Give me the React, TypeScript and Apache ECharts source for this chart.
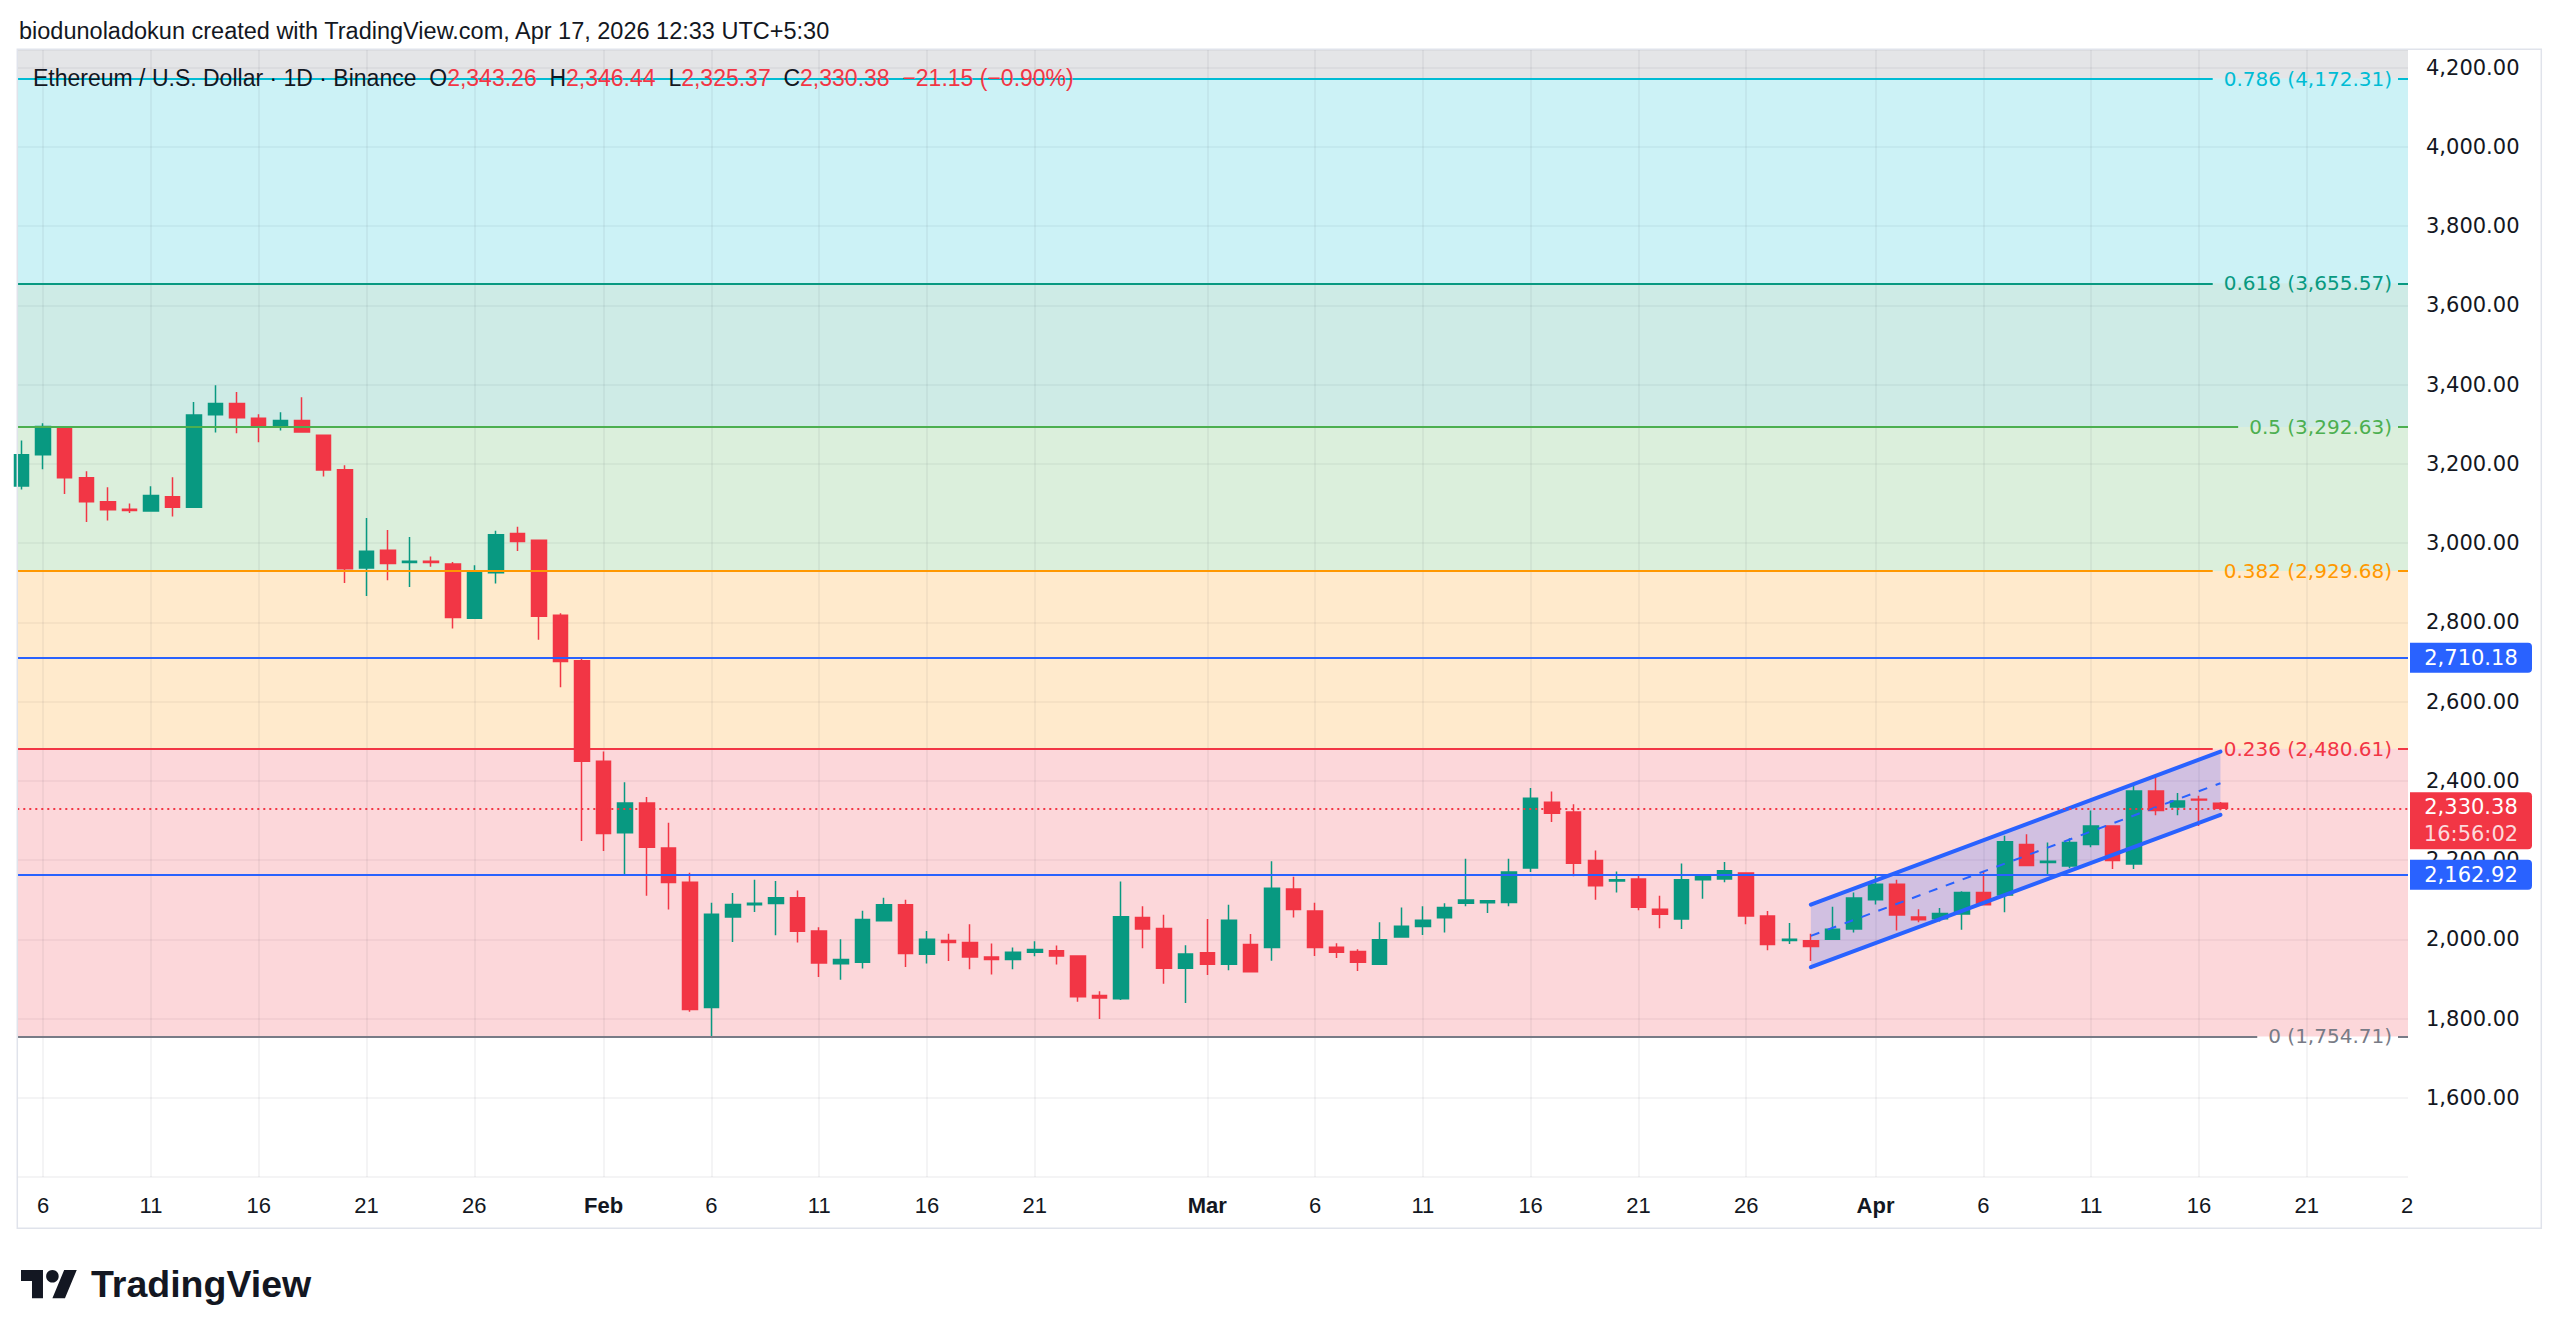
import React, { useEffect, useRef } from 'react';
import * as echarts from 'echarts';

// ---------- calendar (x axis categories) ----------
const monthSpans: [string, number, number][] = [
  ['Jan', 5, 31],
  ['Feb', 1, 28],
  ['Mar', 1, 31],
  ['Apr', 1, 26],
];
const axisDates: string[] = monthSpans.flatMap(([m, a, b]) =>
  Array.from({ length: b - a + 1 }, (_, i) => `${m} ${a + i}`)
);

// ---------- daily ETH/USD candles, Jan 5 .. Apr 17 ----------
const opens = [
  3144, 3223, 3293, 3165, 3104, 3085, 3081, 3117, 3090, 3324, 3352, 3315, 3294, 3309, 3272, 3185, 2937, 2982, 2951, 2954, 2947, 2810, 2925, 3024, 3007, 2818, 2703,
  2449, 2269, 2344, 2230, 2144, 1828, 2056, 2087, 2090, 2105, 2021, 1938, 1942, 2047, 2087, 1962, 1997, 1992, 1955, 1949, 1967, 1971, 1958, 1858, 1850, 2055, 2027, 1927,
  1966, 1937, 1987, 1979, 2127, 2071, 1980, 1969, 1937, 2006, 2032, 2054, 2091, 2092, 2093, 2180, 2346, 2321, 2199, 2147, 2152, 2076, 2051, 2150, 2152, 2167, 2059, 1997, 1996, 2000, 2026,
  2100, 2139, 2056, 2052, 2064, 2118, 2112, 2239, 2194, 2185, 2239, 2286, 2190, 2374, 2334, 2353.5, 2343.26,
];
const highs = [
  3259, 3302, 3294, 3181, 3141, 3100, 3143, 3166, 3356, 3398, 3381, 3325, 3330, 3368, 3273, 3196, 3063, 3033, 3015, 2966, 2952, 2944, 3031, 3041, 3008, 2823, 2710,
  2474, 2396, 2359, 2294, 2168, 2092, 2117, 2150, 2147, 2123, 2030, 2000, 2072, 2105, 2100, 2021, 2014, 2038, 1989, 1979, 1995, 1984, 1958, 1869, 2146, 2083, 2062, 1985,
  2051, 2087, 2013, 2197, 2158, 2092, 1990, 1975, 2043, 2080, 2083, 2091, 2203, 2099, 2203, 2382, 2373, 2341, 2224, 2171, 2162, 2110, 2191, 2163, 2195, 2167, 2071, 2041, 2014, 2082, 2118,
  2162, 2150, 2076, 2079, 2121, 2171, 2261, 2265, 2244, 2255, 2325, 2286, 2393, 2413, 2369, 2362, 2346.44,
];
const lows = [
  3135, 3186, 3124, 3053, 3057, 3076, 3080, 3067, 3089, 3279, 3277, 3254, 3284, 3280, 3168, 2899, 2866, 2906, 2889, 2940, 2784, 2809, 2898, 2980, 2756, 2636, 2248,
  2223, 2160, 2110, 2075, 1817, 1754.71, 1993, 2069, 2010, 1992, 1905, 1898, 1926, 2045, 1930, 1939, 1945, 1924, 1911, 1924, 1957, 1936, 1842, 1799, 1847, 1977, 1888, 1839,
  1910, 1922, 1916, 1946, 2055, 1958, 1953, 1920, 1936, 2005, 2011, 2017, 2083, 2066, 2083, 2170, 2296, 2159, 2100, 2118, 2073, 2028, 2026, 2102, 2144, 2038, 1972, 1988, 1945, 1998, 2017,
  2088, 2022, 2043, 2045, 2024, 2087, 2068, 2184, 2165, 2179, 2232, 2177, 2177, 2313, 2313, 2286, 2325.37,
];
const closes = [
  3223, 3294, 3165, 3104, 3084, 3082, 3120, 3090, 3323, 3352, 3316, 3294, 3309, 3280, 3184, 2935, 2979, 2948, 2954, 2951, 2812, 2929, 3021, 3004, 2815, 2701, 2449,
  2267, 2344, 2232, 2143, 1823, 2063, 2088, 2091, 2105, 2020, 1940, 1949, 2050, 2087, 1964, 2000, 1992, 1955, 1949, 1967, 1974, 1958, 1855, 1852, 2057, 2026, 1927, 1963,
  1937, 2048, 1918, 2129, 2075, 1979, 1967, 1942, 1999, 2033, 2048, 2080, 2099, 2097, 2170, 2356, 2318, 2192, 2135, 2150, 2081, 2063, 2150, 2160, 2173, 2059, 1987, 2000, 1982, 2025, 2104,
  2139, 2061, 2049, 2065, 2118, 2087, 2246, 2186, 2197, 2244, 2286, 2199, 2374, 2325, 2349, 2351.53, 2330.38,
];

// ---------- x tick labels ----------
const tickDates = ['Jan 6', 'Jan 11', 'Jan 16', 'Jan 21', 'Jan 26', 'Feb 1', 'Feb 6', 'Feb 11', 'Feb 16', 'Feb 21', 'Mar 1', 'Mar 6', 'Mar 11', 'Mar 16', 'Mar 21', 'Mar 26', 'Apr 1', 'Apr 6', 'Apr 11', 'Apr 16', 'Apr 21'];
const tickTexts = ['6', '11', '16', '21', '26', 'Feb', '6', '11', '16', '21', 'Mar', '6', '11', '16', '21', '26', 'Apr', '6', '11', '16', '21'];

// ---------- drawings ----------
const fibLevels = [0, 0.236, 0.382, 0.5, 0.618, 0.786];
const fibPrices = [1754.71, 2480.61, 2929.68, 3292.63, 3655.57, 4172.31];
const fibColors = ['#787b86', '#f23645', '#ff9800', '#4caf50', '#089981', '#00bcd4'];
const fibTopColor = '#787b86'; // band 0.786 .. 1
const keyLevels = [2710.18, 2162.92];
const channelDates = ['Mar 29', 'Apr 17'];
const channelUpper = [2087.3, 2473.6];
const channelLower = [1929.5, 2314.0];
const countdown = '16:56:02';

// ---------- layout ----------
const W = 2560;
const H = 1340;
const GRID = { left: 17.3, right: 152, top: 49.7, bottom: 163 };
const X_MIN = -0.2;
const X_MAX = 110.7;
const Y_MIN = 1400;
const Y_MAX = 4245;
const PLOT_W = W - GRID.left - GRID.right;
const LABEL_RIGHT = 2392;
const UP = '#089981';
const DOWN = '#f23645';
const TEXT = '#131722';
const SANS = '"Liberation Sans", Arial, sans-serif';
const WIDE = '"DejaVu Sans", sans-serif';

echarts.graphic.registerShape(
  'tvlogo',
  echarts.graphic.extendPath('M14 22H7V11H0V4h14v18zM28 22h-8l7.5-18h8L28 22z', {})
);

const fmt2 = (v: number) => v.toLocaleString('en-US', { minimumFractionDigits: 2, maximumFractionDigits: 2 });
const pxToX = (px: number) => X_MIN + ((px - GRID.left) * (X_MAX - X_MIN)) / PLOT_W;
const rgba = (hex: string, a: number) => {
  const n = parseInt(hex.slice(1), 16);
  return `rgba(${(n >> 16) & 255},${(n >> 8) & 255},${n & 255},${a})`;
};
const measure = (text: string, font: string) => {
  const ctx = document.createElement('canvas').getContext('2d');
  if (!ctx) return text.length * 10;
  ctx.font = font;
  return ctx.measureText(text).width;
};
const tagPath = (w: number, h: number) =>
  `path://M0,0 H${w - 4} Q${w},0 ${w},4 V${h - 4} Q${w},${h} ${w - 4},${h} H0 Z`;

function buildOption() {
  const n = closes.length;
  const last = closes[n - 1];
  const change = last - closes[n - 2];
  const pct = (change / closes[n - 2]) * 100;
  const minus = '\u2212';
  const chgText = `${change < 0 ? minus : '+'}${fmt2(Math.abs(change))} (${pct < 0 ? minus : '+'}${fmt2(Math.abs(pct))}%)`;

  const candles = opens.map((o, i) => [i, o, closes[i], lows[i], highs[i]]);

  const bandTops = [...fibPrices.slice(1), Y_MAX];
  const bandColors = [...fibColors.slice(1), fibTopColor];
  const bands = fibPrices.map((v, i) => [
    { yAxis: v, itemStyle: { color: rgba(bandColors[i], 0.2) } },
    { yAxis: bandTops[i] },
  ]);

  const gridLines = tickDates.map((d, k) => ({
    xAxis: axisDates.indexOf(d),
    label: {
      formatter: tickTexts[k],
      fontWeight: isNaN(Number(tickTexts[k])) ? 'bold' : 'normal',
    },
  }));

  const fibFont = `20px ${WIDE}`;
  const fibLines: any[] = [];
  fibPrices.forEach((v, i) => {
    const text = `${fibLevels[i]} (${fmt2(v)})`;
    const w = measure(text, fibFont);
    const ls = { color: fibColors[i], width: 2, type: 'solid' };
    fibLines.push([
      { coord: [X_MIN, v], lineStyle: ls },
      { coord: [pxToX(LABEL_RIGHT - w - 11), v] },
    ]);
    fibLines.push([
      {
        coord: [pxToX(LABEL_RIGHT + 6), v],
        lineStyle: ls,
        label: {
          show: true,
          position: 'start',
          distance: 6,
          formatter: text,
          color: fibColors[i],
          fontSize: 20,
          fontFamily: WIDE,
        },
      },
      { coord: [X_MAX, v] },
    ]);
  });

  const levelLines = keyLevels.map((v) => ({
    yAxis: v,
    lineStyle: { color: '#2962ff', width: 2, type: 'solid' },
  }));
  const priceLine = { yAxis: last, lineStyle: { color: DOWN, width: 2, type: [2, 4] } };

  const tagLabel = { show: true, position: 'inside', color: '#ffffff', fontSize: 21, fontFamily: WIDE };
  const tags = [
    ...keyLevels.map((v) => ({
      coord: [X_MAX, v],
      symbol: tagPath(122, 30),
      symbolSize: [122, 30],
      symbolOffset: [63, 0],
      itemStyle: { color: '#2962ff' },
      label: { ...tagLabel, formatter: fmt2(v) },
    })),
    {
      coord: [X_MAX, last],
      symbol: tagPath(122, 57),
      symbolSize: [122, 57],
      symbolOffset: [63, 12.5],
      itemStyle: { color: DOWN },
      label: {
        ...tagLabel,
        formatter: `{p|${fmt2(last)}}\n{t|${countdown}}`,
        rich: {
          p: { color: '#ffffff', fontSize: 21, fontFamily: WIDE, lineHeight: 27 },
          t: { color: 'rgba(255,255,255,0.82)', fontSize: 21, fontFamily: WIDE, lineHeight: 27 },
        },
      },
    },
  ];

  const chIdx = channelDates.map((d) => axisDates.indexOf(d));
  const channelData = [[chIdx[0], channelUpper[0], channelLower[0], chIdx[1], channelUpper[1], channelLower[1]]];

  const channelGeom = (api: any) => {
    const u0 = api.coord([api.value(0), api.value(1)]);
    const l0 = api.coord([api.value(0), api.value(2)]);
    const u1 = api.coord([api.value(3), api.value(4)]);
    const l1 = api.coord([api.value(3), api.value(5)]);
    const m0 = [(u0[0] + l0[0]) / 2, (u0[1] + l0[1]) / 2];
    const m1 = [(u1[0] + l1[0]) / 2, (u1[1] + l1[1]) / 2];
    return { u0, l0, u1, l1, m0, m1 };
  };

  const ohlc = `{k|O}{v|${fmt2(opens[n - 1])}}  {k|H}{v|${fmt2(highs[n - 1])}}  {k|L}{v|${fmt2(lows[n - 1])}}  {k|C}{v|${fmt2(last)}}  {v|${chgText}}`;

  return {
    animation: false,
    backgroundColor: '#ffffff',
    title: [
      {
        text: 'biodunoladokun created with TradingView.com, Apr 17, 2026 12:33 UTC+5:30',
        left: 19,
        top: 17,
        padding: 0,
        textStyle: { color: TEXT, fontSize: 23.5, fontWeight: 'normal', fontFamily: SANS, lineHeight: 28 },
      },
      {
        text: `{n|Ethereum / U.S. Dollar · 1D · Binance}  ${ohlc}`,
        left: 33,
        top: 64,
        padding: 0,
        z: 10,
        textStyle: {
          color: TEXT,
          fontSize: 23,
          fontWeight: 'normal',
          fontFamily: SANS,
          lineHeight: 28,
          rich: {
            n: { color: TEXT, fontSize: 23, fontFamily: SANS },
            k: { color: TEXT, fontSize: 23, fontFamily: SANS },
            v: { color: DOWN, fontSize: 23, fontFamily: SANS },
          },
        },
      },
    ],
    grid: { left: GRID.left, right: GRID.right, top: GRID.top, bottom: GRID.bottom, containLabel: false },
    xAxis: {
      type: 'value',
      min: X_MIN,
      max: X_MAX,
      axisLabel: { show: false },
      axisLine: { show: false },
      axisTick: { show: false },
      splitLine: { show: false },
    },
    yAxis: {
      type: 'value',
      position: 'right',
      min: Y_MIN,
      max: Y_MAX,
      interval: 200,
      scale: true,
      axisLine: { show: false },
      axisTick: { show: false },
      splitLine: { show: true, lineStyle: { color: 'rgba(42,46,57,0.07)', width: 1.5 } },
      axisLabel: {
        margin: 18,
        color: TEXT,
        fontSize: 21,
        fontFamily: WIDE,
        formatter: (v: number) => (v % 200 === 0 && v >= 1600 && v <= 4200 ? fmt2(v) : ''),
      },
    },
    series: [
      {
        type: 'line',
        name: 'backdrop',
        data: [],
        silent: true,
        markArea: { silent: true, z: 1, data: bands },
        markLine: {
          silent: true,
          z: 1,
          symbol: ['none', 'none'],
          lineStyle: { color: 'rgba(42,46,57,0.07)', width: 1.5, type: 'solid' },
          label: {
            show: true,
            position: 'start',
            distance: 17,
            color: TEXT,
            fontSize: 22,
            fontFamily: SANS,
            align: 'center',
            verticalAlign: 'top',
          },
          data: gridLines,
        },
      },
      {
        type: 'custom',
        name: 'channelFill',
        z: 1,
        silent: true,
        data: channelData,
        encode: { x: [0, 3], y: [1, 2, 4, 5] },
        renderItem: (_p: any, api: any) => {
          const g = channelGeom(api);
          return {
            type: 'polygon',
            shape: { points: [g.u0, g.u1, g.l1, g.l0] },
            style: { fill: 'rgba(41,98,255,0.2)' },
          };
        },
      },
      {
        type: 'candlestick',
        name: 'ETHUSD',
        z: 2,
        data: candles,
        barWidth: 15,
        itemStyle: {
          color: UP,
          color0: DOWN,
          borderColor: UP,
          borderColor0: DOWN,
          borderWidth: 1.5,
        },
      },
      {
        type: 'custom',
        name: 'channelLines',
        z: 4,
        silent: true,
        data: channelData,
        encode: { x: [0, 3], y: [1, 2, 4, 5] },
        renderItem: (_p: any, api: any) => {
          const g = channelGeom(api);
          const solid = { stroke: '#2962ff', lineWidth: 4, lineCap: 'round' };
          return {
            type: 'group',
            children: [
              { type: 'line', shape: { x1: g.u0[0], y1: g.u0[1], x2: g.u1[0], y2: g.u1[1] }, style: solid },
              { type: 'line', shape: { x1: g.l0[0], y1: g.l0[1], x2: g.l1[0], y2: g.l1[1] }, style: solid },
              {
                type: 'line',
                shape: { x1: g.m0[0], y1: g.m0[1], x2: g.m1[0], y2: g.m1[1] },
                style: { stroke: '#2962ff', lineWidth: 2, lineDash: [9, 9] },
              },
            ],
          };
        },
      },
      {
        type: 'line',
        name: 'levels',
        data: [],
        silent: true,
        markLine: {
          silent: true,
          z: 5,
          symbol: ['none', 'none'],
          label: { show: false },
          data: [...fibLines, ...levelLines, priceLine],
        },
        markPoint: { silent: true, z: 6, data: tags },
      },
    ],
    graphic: [
      {
        type: 'rect',
        silent: true,
        z: 10,
        shape: { x: 17.3, y: 49.3, width: 2524, height: 1179 },
        style: { fill: 'none', stroke: '#e0e3eb', lineWidth: 1.5 },
      },
      {
        type: 'text',
        silent: true,
        z: 10,
        style: { text: '2', x: 2401, y: 1205, font: `22px ${SANS}`, fill: TEXT, verticalAlign: 'middle' },
      },
      {
        type: 'group',
        silent: true,
        children: [
          { type: 'tvlogo', x: 21, y: 1263.7, scaleX: 1.57, scaleY: 1.57, style: { fill: TEXT } },
          { type: 'circle', shape: { cx: 21 + 20 * 1.57, cy: 1263.7 + 8 * 1.57, r: 4 * 1.57 }, style: { fill: TEXT } },
          {
            type: 'text',
            style: { text: 'TradingView', x: 91, y: 1284, font: `bold 37.5px ${SANS}`, fill: TEXT, verticalAlign: 'middle' },
          },
        ],
      },
    ],
  };
}

export default function App() {
  const ref = useRef<HTMLDivElement>(null);
  useEffect(() => {
    document.body.style.margin = '0';
    document.body.style.overflow = 'hidden';
    if (!ref.current) return;
    const chart = echarts.init(ref.current, null, { renderer: 'svg' });
    chart.setOption(buildOption() as any);
    return () => chart.dispose();
  }, []);
  return <div ref={ref} style={{ width: W, height: H }} />;
}
